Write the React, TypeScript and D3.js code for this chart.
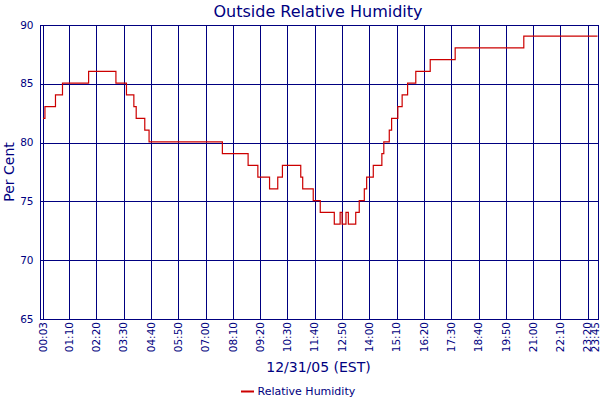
import React from "react";
import * as d3 from "d3";

const changeTimes = ["00:03","00:08","00:35","00:53","02:00","03:10","03:37","03:56","04:02","04:24","04:35","07:43","08:49","09:14","09:44","10:05","10:17","11:04","11:09","11:36","11:54","12:30","12:45","12:50","13:00","13:06","13:25","13:34","13:47","13:53","14:10","14:32","14:37","14:51","14:57","15:13","15:24","15:38","15:59","16:36","17:40","20:36","23:45"];
const humidity = [82,83,84,85,86,85,84,83,82,81,80,79,78,77,76,77,78,77,76,75,74,73,74,73,74,73,74,75,76,77,78,79,80,81,82,83,84,85,86,87,88,89,89];
const tickLabels = ["00:03","01:10","02:20","03:30","04:40","05:50","07:00","08:10","09:20","10:30","11:40","12:50","14:00","15:10","16:20","17:30","18:40","19:50","21:00","22:10","23:20","23:45"];
const yTicks = [65, 70, 75, 80, 85, 90];

const title = "Outside Relative Humidity";
const yTitle = "Per Cent";
const xTitle = "12/31/05 (EST)";
const seriesName = "Relative Humidity";

const toMin = (s: string) => {
  const [h, m] = s.split(":").map(Number);
  return h * 60 + m;
};

const NAVY = "#000080";
const RED = "#cc0000";
const FONT = "'DejaVu Sans', Verdana, sans-serif";

export default function App() {
  const left = 40.5, right = 598.5, top = 25, bottom = 319;
  const x = d3.scaleLinear().domain([toMin("00:03"), toMin("23:45")]).range([43, 597.5]);
  const y = d3.scaleLinear().domain([65, 90]).range([bottom, top]);
  const pts: [number, number][] = changeTimes.map((t, i) => [toMin(t), humidity[i]]);
  const line = d3.line<[number, number]>()
    .x((d) => x(d[0]))
    .y((d) => y(d[1]) - 0.7)
    .curve(d3.curveStepAfter);

  return (
    <svg width={600} height={400} style={{ position: "absolute", left: 0, top: 0, background: "#fff" }}>
      <rect x={0} y={0} width={600} height={400} fill="#fff" />
      <text x={318} y={17} textAnchor="middle" fontFamily={FONT} fontSize={16} fill={NAVY}>{title}</text>
      {tickLabels.map((t) => (
        <line key={"v" + t} x1={Math.round(x(toMin(t))) + 0.5} x2={Math.round(x(toMin(t))) + 0.5} y1={top} y2={bottom} stroke={NAVY} strokeWidth={1} />
      ))}
      {yTicks.map((v) => (
        <line key={"h" + v} x1={left} x2={right} y1={Math.round(y(v)) + 0.5} y2={Math.round(y(v)) + 0.5} stroke={NAVY} strokeWidth={1} />
      ))}
      <rect x={left} y={top + 0.5} width={right - left} height={bottom - top} fill="none" stroke={NAVY} strokeWidth={1} />
      <path d={line(pts) || ""} fill="none" stroke={RED} strokeWidth={1.2} />
      {yTicks.map((v) => (
        <text key={"yl" + v} x={33.5} y={y(v)} dy="0.35em" textAnchor="end" fontFamily={FONT} fontSize={10.5} fill={NAVY}>{v}</text>
      ))}
      {tickLabels.map((t) => (
        <text key={"xl" + t} transform={`translate(${Math.min(x(toMin(t)), 595.5)},322) rotate(-90)`} dy="0.35em" textAnchor="end" fontFamily={FONT} fontSize={10.5} fill={NAVY}>{t}</text>
      ))}
      <text transform={`translate(13.5,${(top + bottom) / 2}) rotate(-90)`} textAnchor="middle" fontFamily={FONT} fontSize={14} fill={NAVY}>{yTitle}</text>
      <text x={318.5} y={372} textAnchor="middle" fontFamily={FONT} fontSize={14} fill={NAVY}>{xTitle}</text>
      <line x1={241} x2={254} y1={391.5} y2={391.5} stroke={RED} strokeWidth={2} />
      <text x={257.5} y={395} fontFamily={FONT} fontSize={11} fill={NAVY}>{seriesName}</text>
    </svg>
  );
}
